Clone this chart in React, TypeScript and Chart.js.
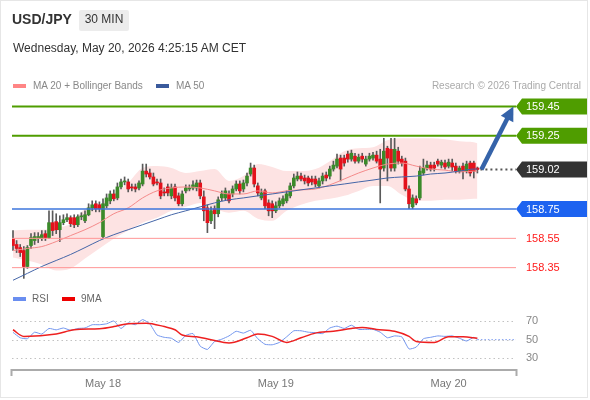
import React, { useEffect, useRef } from 'react';
import { Chart, registerables } from 'chart.js';

Chart.register(...registerables);

// ---------- DATA ----------
const candleOpen = [158.548,158.508,158.487,158.467,158.358,158.501,158.535,158.548,158.548,158.582,158.555,158.657,158.664,158.609,158.657,158.677,158.691,158.691,158.643,158.697,158.670,158.711,158.758,158.786,158.779,158.562,158.772,158.806,158.853,158.826,158.901,158.935,158.935,158.901,158.901,158.894,158.921,159.009,158.996,158.969,158.935,158.928,158.867,158.901,158.840,158.901,158.840,158.786,158.874,158.887,158.894,158.894,158.928,158.833,158.758,158.670,158.752,158.718,158.826,158.826,158.853,158.853,158.887,158.921,158.887,158.928,158.989,159.030,158.908,158.826,158.874,158.792,158.786,158.738,158.772,158.786,158.806,158.840,158.908,158.955,158.975,158.962,158.962,158.955,158.955,158.908,158.942,158.982,158.975,159.023,159.043,159.098,159.098,159.125,159.091,159.111,159.077,159.111,159.057,159.091,159.098,159.118,159.091,159.030,159.165,159.158,159.030,159.145,159.091,159.077,158.887,158.765,158.820,158.826,158.996,159.030,159.050,159.050,159.077,159.050,159.064,159.043,159.064,159.043,159.009,159.043,159.009,159.064,159.064,159.030];
const candleHigh = [158.603,158.535,158.508,158.494,158.501,158.582,158.589,158.589,158.603,158.603,158.738,158.738,158.718,158.704,158.711,158.718,158.704,158.711,158.711,158.725,158.738,158.786,158.806,158.806,158.799,158.820,158.853,158.874,158.881,158.928,158.955,158.969,158.955,158.921,158.921,158.942,159.057,159.057,159.023,158.996,158.955,158.955,158.894,158.921,158.921,158.921,158.860,158.874,158.915,158.915,158.942,158.948,158.948,158.874,158.779,158.765,158.772,158.833,158.874,158.894,158.874,158.908,158.942,158.942,158.948,158.996,159.064,159.050,158.928,158.887,158.887,158.813,158.806,158.799,158.826,158.840,158.874,158.928,158.989,159.003,158.996,158.982,158.975,158.975,158.975,158.962,158.996,159.003,159.043,159.077,159.125,159.118,159.118,159.145,159.152,159.131,159.125,159.131,159.111,159.131,159.138,159.145,159.158,159.233,159.179,159.233,159.233,159.172,159.111,159.098,158.908,158.847,158.840,159.043,159.091,159.077,159.070,159.070,159.091,159.084,159.084,159.091,159.091,159.064,159.043,159.064,159.077,159.077,159.077,159.037];
const candleLow = [158.467,158.453,158.426,158.277,158.345,158.481,158.508,158.521,158.535,158.535,158.548,158.569,158.582,158.528,158.643,158.664,158.630,158.623,158.630,158.677,158.657,158.704,158.738,158.731,158.731,158.548,158.758,158.786,158.806,158.813,158.887,158.915,158.867,158.874,158.867,158.881,158.908,158.969,158.955,158.908,158.915,158.820,158.840,158.840,158.820,158.806,158.772,158.772,158.860,158.874,158.881,158.874,158.820,158.670,158.589,158.650,158.616,158.697,158.806,158.813,158.792,158.833,158.874,158.853,158.867,158.908,158.975,158.901,158.840,158.813,158.752,158.704,158.691,158.725,158.758,158.772,158.792,158.826,158.894,158.942,158.942,158.921,158.908,158.915,158.901,158.894,158.921,158.942,158.955,159.009,159.030,158.942,159.043,159.070,159.077,159.064,159.064,159.070,159.043,159.077,159.084,159.064,158.792,159.009,158.942,159.009,159.009,159.057,159.043,158.874,158.752,158.752,158.779,158.813,158.982,159.016,159.009,159.009,159.043,159.030,159.023,159.030,159.009,158.996,158.996,158.955,158.996,158.975,158.962,158.996];
const candleClose = [158.501,158.481,158.453,158.358,158.487,158.555,158.562,158.562,158.575,158.555,158.657,158.603,158.609,158.657,158.677,158.691,158.650,158.643,158.697,158.704,158.711,158.758,158.779,158.752,158.752,158.786,158.826,158.853,158.820,158.901,158.935,158.942,158.887,158.894,158.887,158.928,159.009,158.989,158.969,158.921,158.928,158.840,158.860,158.860,158.894,158.826,158.786,158.853,158.894,158.894,158.915,158.928,158.840,158.738,158.657,158.738,158.718,158.813,158.853,158.874,158.806,158.887,158.921,158.874,158.928,158.975,159.030,158.921,158.860,158.860,158.772,158.738,158.738,158.772,158.806,158.820,158.853,158.908,158.962,158.975,158.955,158.942,158.928,158.935,158.921,158.942,158.975,158.962,159.023,159.050,159.091,159.023,159.064,159.091,159.131,159.077,159.104,159.091,159.091,159.111,159.118,159.077,159.023,159.145,159.098,159.030,159.158,159.077,159.064,158.887,158.786,158.826,158.792,159.009,159.030,159.050,159.023,159.030,159.057,159.070,159.037,159.070,159.037,159.009,159.030,159.009,159.057,158.996,159.009,159.020];

const bandIdx = [0,4,8,12,16,20,24,28,32,36,40,44,48,52,56,60,64,68,72,76,80,84,88,92,96,100,104,108,112,116,120,124,128,129];
const bbUpper = [158.603,158.609,158.609,158.623,158.650,158.752,158.779,158.853,158.928,159.030,159.043,159.030,158.996,159.009,159.023,158.942,158.975,159.057,159.037,159.009,159.009,159.023,159.077,159.145,159.165,159.172,159.220,159.233,159.233,159.233,159.226,159.213,159.206,159.199];
const bbLower = [158.420,158.399,158.372,158.331,158.345,158.413,158.481,158.548,158.603,158.657,158.691,158.738,158.765,158.792,158.752,158.725,158.738,158.684,158.670,158.738,158.779,158.806,158.820,158.840,158.874,158.908,158.908,158.847,158.806,158.806,158.813,158.813,158.820,158.820];
const ma20 = [158.467,158.481,158.494,158.528,158.569,158.609,158.657,158.718,158.758,158.826,158.874,158.894,158.901,158.894,158.874,158.853,158.853,158.874,158.860,158.874,158.881,158.887,158.915,158.955,158.996,159.030,159.057,159.064,159.043,159.023,159.016,159.003,159.009,159.009];
const ma50 = [158.264,158.311,158.358,158.399,158.440,158.487,158.535,158.575,158.609,158.643,158.677,158.711,158.738,158.765,158.792,158.813,158.826,158.840,158.853,158.867,158.881,158.894,158.908,158.921,158.935,158.948,158.962,158.969,158.975,158.989,158.996,159.009,159.023,159.023];

const rsiIdx = [0,2,4,6,8,10,12,14,16,18,20,22,24,26,28,30,32,34,36,38,40,42,44,46,48,50,52,54,56,58,60,62,64,66,68,70,72,74,76,78,80,82,84,86,88,90,92,94,96,98,100,102,104,106,108,110,112,114,116,118,120,122,124,126,128,129];
const rsiVals = [57.8,52,51,58,56,62,60.5,62.5,60,62,62.5,66,66,67,70,62,68,66,71.5,67,55,52.5,51.5,47,54.5,56.5,43,39.5,48,50.5,54,59,57,60,51,45,44.5,47,53,59.5,59.5,58,57.5,56.5,62.5,64.5,62,65.5,61,61,61,58,52,54,53,40,42,51,52.5,54,53.5,54,51.5,48.5,52.5,50];
const rsiMaIdx = [0,3,12,17,24,28,31,37,42,45,47,51,55,60,65,68,72,76,80,84,89,94,97,101,106,110,112,117,121,125,129];
const rsiMaVals = [60.6,53.5,56,60.6,61.7,64,66.6,67.7,64,60.6,55,53,50,46.5,52,56,53.5,47,52,57,59,62,63,61,59,53.5,48,47,53,53,51.5];

const dayTickIdx = [25, 73, 121];
const dayLabels = ['May 18', 'May 19', 'May 20'];
const rsiTickVals = [30, 50, 70];

const levelPrices = [159.45, 159.25, 159.02, 158.75, 158.55, 158.35];
const levelLabels = ['159.45', '159.25', '159.02', '158.75', '158.55', '158.35'];
const arrowTargetIdx = 139;
const arrowTargetPrice = 159.45;

// ---------- STYLES / LAYOUT ----------
const FONT = '"Liberation Sans", Arial, Helvetica, sans-serif';
const X_MIN = -0.278;
const X_MAX = 139.72;
const PRICE_MAX = 159.5626;
const PRICE_MIN = 157.6514;
const RSI_MAX = 317.7;
const RSI_MIN = 17.45;
const GREEN = '#3b8a2a';
const RED = '#e3121c';

const levelStyles = [
  { line: '#4f9d00', width: 2, tag: '#4f9d00', text: '#ffffff' },
  { line: '#4f9d00', width: 2, tag: '#4f9d00', text: '#ffffff' },
  { line: '#555555', width: 2, dash: [2, 3], fromLast: true, tag: '#333333', text: '#ffffff' },
  { line: '#3d76dd', width: 1.5, tag: '#1d63f0', text: '#ffffff' },
  { line: '#ff9696', width: 1, tag: null, text: '#ff1a1a' },
  { line: '#ff9696', width: 1, tag: null, text: '#ff1a1a' },
];

const overlayPlugin = {
  id: 'overlay',
  beforeDatasetsDraw(chart: any) {
    const { ctx, chartArea, scales } = chart;
    const y2 = scales.y2;
    ctx.save();
    ctx.strokeStyle = '#c2c2c2';
    ctx.lineWidth = 1;
    ctx.setLineDash([1.5, 3]);
    for (const v of rsiTickVals) {
      const y = Math.round(y2.getPixelForValue(v)) + 0.5;
      ctx.beginPath();
      ctx.moveTo(chartArea.left, y);
      ctx.lineTo(chartArea.right, y);
      ctx.stroke();
    }
    ctx.restore();
  },
  afterDatasetsDraw(chart: any) {
    const { ctx, chartArea, scales } = chart;
    const xs = scales.x;
    const ys = scales.y;
    const y2 = scales.y2;
    const lastIdx = candleClose.length - 1;
    const lastX = xs.getPixelForValue(lastIdx) + 3;

    // level lines
    levelPrices.forEach((p, k) => {
      const st: any = levelStyles[k];
      const y = ys.getPixelForValue(p);
      ctx.save();
      ctx.strokeStyle = st.line;
      ctx.lineWidth = st.width;
      ctx.setLineDash(st.dash || []);
      ctx.beginPath();
      ctx.moveTo(st.fromLast ? lastX : chartArea.left, y);
      ctx.lineTo(chartArea.right, y);
      ctx.stroke();
      ctx.restore();
    });

    // arrow
    const ax0 = lastX + 1;
    const ay0 = ys.getPixelForValue(candleClose[lastIdx]);
    const ax1 = xs.getPixelForValue(arrowTargetIdx);
    const ay1 = ys.getPixelForValue(arrowTargetPrice);
    const ang = Math.atan2(ay1 - ay0, ax1 - ax0);
    const headLen = 14;
    const headW = 7;
    const bx = ax1 - Math.cos(ang) * headLen;
    const by = ay1 - Math.sin(ang) * headLen;
    ctx.save();
    ctx.strokeStyle = '#3563a9';
    ctx.fillStyle = '#3563a9';
    ctx.lineWidth = 4.5;
    ctx.lineCap = 'butt';
    ctx.beginPath();
    ctx.moveTo(ax0, ay0);
    ctx.lineTo(bx + Math.cos(ang) * 2, by + Math.sin(ang) * 2);
    ctx.stroke();
    ctx.beginPath();
    ctx.moveTo(ax1, ay1);
    ctx.lineTo(bx + Math.sin(ang) * headW, by - Math.cos(ang) * headW);
    ctx.lineTo(bx - Math.sin(ang) * headW, by + Math.cos(ang) * headW);
    ctx.closePath();
    ctx.fill();
    ctx.restore();

    // tags
    levelPrices.forEach((p, k) => {
      const st: any = levelStyles[k];
      const y = ys.getPixelForValue(p);
      const tip = chartArea.right;
      ctx.save();
      if (st.tag) {
        ctx.fillStyle = st.tag;
        ctx.beginPath();
        ctx.moveTo(tip, y);
        ctx.lineTo(tip + 6, y - 8);
        ctx.lineTo(587, y - 8);
        ctx.lineTo(587, y + 8);
        ctx.lineTo(tip + 6, y + 8);
        ctx.closePath();
        ctx.fill();
      }
      ctx.fillStyle = st.text;
      ctx.font = `11px ${FONT}`;
      ctx.textBaseline = 'middle';
      ctx.textAlign = 'left';
      ctx.fillText(levelLabels[k], tip + 10, y + 0.5);
      ctx.restore();
    });

    // RSI dotted extension
    const rLast = rsiIdx.length - 1;
    const rx = xs.getPixelForValue(rsiIdx[rLast]);
    const ry = y2.getPixelForValue(rsiVals[rLast]);
    ctx.save();
    ctx.strokeStyle = '#7d9cf0';
    ctx.lineWidth = 1;
    ctx.setLineDash([1.5, 2]);
    ctx.beginPath();
    ctx.moveTo(rx, ry);
    ctx.lineTo(chartArea.right, ry);
    ctx.stroke();
    ctx.restore();

    // x axis bracket line
    const yb = chartArea.bottom;
    ctx.save();
    ctx.strokeStyle = '#ababab';
    ctx.lineWidth = 2;
    ctx.beginPath();
    ctx.moveTo(chartArea.left - 0.5, yb + 6);
    ctx.lineTo(chartArea.left - 0.5, yb);
    ctx.lineTo(chartArea.right + 0.5, yb);
    ctx.lineTo(chartArea.right + 0.5, yb + 6);
    ctx.stroke();
    ctx.restore();
  },
};

export default function App() {
  const ref = useRef<HTMLCanvasElement>(null);

  useEffect(() => {
    const canvas = ref.current;
    if (!canvas) return;
    Chart.defaults.font.family = FONT;
    const idx = candleClose.map((_, i) => i);
    const wickData = idx.map((i) => ({ x: i, y: [candleLow[i], candleHigh[i]] }));
    const bodyData = idx.map((i) => ({ x: i, y: [candleOpen[i], candleClose[i]] }));
    const bodyColors = idx.map((i) => (candleClose[i] >= candleOpen[i] ? GREEN : RED));
    const pts = (xsArr: number[], ysArr: number[]) => xsArr.map((x, k) => ({ x, y: ysArr[k] }));

    const chart = new Chart(canvas, {
      type: 'bar',
      data: {
        datasets: [
          {
            type: 'line', data: pts(bandIdx, bbUpper), yAxisID: 'y', borderColor: 'rgba(0,0,0,0)',
            borderWidth: 0, pointRadius: 0, fill: false, cubicInterpolationMode: 'monotone', order: 10,
          } as any,
          {
            type: 'line', data: pts(bandIdx, bbLower), yAxisID: 'y', borderColor: 'rgba(0,0,0,0)',
            borderWidth: 0, pointRadius: 0, fill: '-1', backgroundColor: '#fde3e3',
            cubicInterpolationMode: 'monotone', order: 9,
          } as any,
          {
            type: 'bar', data: wickData, yAxisID: 'y', backgroundColor: '#5a5a5a',
            barThickness: 1, grouped: false, order: 8,
          } as any,
          {
            type: 'bar', data: bodyData, yAxisID: 'y', backgroundColor: bodyColors,
            borderWidth: 0, barThickness: 3, minBarLength: 1, grouped: false, order: 7,
          } as any,
          {
            type: 'line', data: pts(bandIdx, ma20), yAxisID: 'y', borderColor: '#f58a8a',
            borderWidth: 1, pointRadius: 0, cubicInterpolationMode: 'monotone', order: 6,
          } as any,
          {
            type: 'line', data: pts(bandIdx, ma50), yAxisID: 'y', borderColor: '#4566a8',
            borderWidth: 1, pointRadius: 0, cubicInterpolationMode: 'monotone', order: 5,
          } as any,
          {
            type: 'line', data: pts(rsiIdx, rsiVals), yAxisID: 'y2', borderColor: '#7396ee',
            borderWidth: 1, pointRadius: 0, tension: 0.15, order: 4,
          } as any,
          {
            type: 'line', data: pts(rsiMaIdx, rsiMaVals), yAxisID: 'y2', borderColor: '#ee2020',
            borderWidth: 1.5, pointRadius: 0, cubicInterpolationMode: 'monotone', order: 3,
          } as any,
        ],
      },
      options: {
        responsive: false,
        animation: false,
        layout: { padding: { left: 12, top: 90, right: 0, bottom: 0 } },
        plugins: { legend: { display: false }, tooltip: { enabled: false } },
        scales: {
          x: {
            type: 'linear', min: X_MIN, max: X_MAX, offset: false,
            grid: { display: false, drawTicks: false }, border: { display: false },
            afterBuildTicks: (s: any) => { s.ticks = dayTickIdx.map((v) => ({ value: v })); },
            afterFit: (s: any) => { s.height = 30; },
            ticks: {
              autoSkip: false, maxRotation: 0, minRotation: 0, padding: 7, color: '#777',
              font: { size: 11, family: FONT },
              callback: (v: any) => { const k = dayTickIdx.indexOf(Number(v)); return k >= 0 ? dayLabels[k] : ''; },
            },
          },
          y: { type: 'linear', display: false, min: PRICE_MIN, max: PRICE_MAX },
          y2: {
            type: 'linear', position: 'right', min: RSI_MIN, max: RSI_MAX,
            grid: { display: false, drawTicks: false }, border: { display: false },
            afterBuildTicks: (s: any) => { s.ticks = rsiTickVals.map((v) => ({ value: v })); },
            afterFit: (s: any) => { s.width = 74; },
            ticks: { padding: 10, color: '#888', font: { size: 11, family: FONT }, callback: (v: any) => String(v) },
          },
        },
      } as any,
      plugins: [overlayPlugin],
    });
    return () => chart.destroy();
  }, []);

  const abs = (o: any) => ({ position: 'absolute' as const, ...o });

  return (
    <div style={{ position: 'relative', width: 590, height: 400, overflow: 'hidden', background: '#fff', fontFamily: FONT }}>
      <style>{'body{margin:0;}'}</style>
      <div style={abs({ left: 0, top: 0, width: 588, height: 398, border: '1px solid #e6e6e6', boxSizing: 'border-box' })} />
      <canvas ref={ref} width={590} height={400} style={abs({ left: 0, top: 0 })} />
      <div style={abs({ left: 12, top: 9, fontSize: 14, fontWeight: 'bold', color: '#333', lineHeight: '20px', whiteSpace: 'nowrap' })}>USD/JPY</div>
      <div style={abs({ left: 79, top: 10, width: 50, height: 21, background: '#ececec', borderRadius: 2 })} />
      <div style={abs({ left: 79, top: 9, width: 50, textAlign: 'center', fontSize: 12, color: '#333', lineHeight: '20px', whiteSpace: 'nowrap' })}>30 MIN</div>
      <div style={abs({ left: 13, top: 38, fontSize: 12, color: '#333', lineHeight: '20px', whiteSpace: 'nowrap' })}>Wednesday, May 20, 2026 4:25:15 AM CET</div>

      <div style={abs({ left: 13, top: 84, width: 13, height: 4, background: '#ff8585' })} />
      <div style={abs({ left: 33, top: 76, fontSize: 10, color: '#888', lineHeight: '20px', whiteSpace: 'nowrap' })}>MA 20 + Bollinger Bands</div>
      <div style={abs({ left: 156, top: 84, width: 13, height: 4, background: '#3a5a9c' })} />
      <div style={abs({ left: 176, top: 76, fontSize: 10, color: '#888', lineHeight: '20px', whiteSpace: 'nowrap' })}>MA 50</div>
      <div style={abs({ right: 9, top: 76, fontSize: 10, color: '#aaa', lineHeight: '20px', whiteSpace: 'nowrap' })}>Research © 2026 Trading Central</div>

      <div style={abs({ left: 13, top: 297, width: 13, height: 4, background: '#6a8ef0' })} />
      <div style={abs({ left: 32, top: 289, fontSize: 10, color: '#666', lineHeight: '20px', whiteSpace: 'nowrap' })}>RSI</div>
      <div style={abs({ left: 62, top: 297, width: 13, height: 4, background: '#ee0000' })} />
      <div style={abs({ left: 81, top: 289, fontSize: 10, color: '#666', lineHeight: '20px', whiteSpace: 'nowrap' })}>9MA</div>
    </div>
  );
}
